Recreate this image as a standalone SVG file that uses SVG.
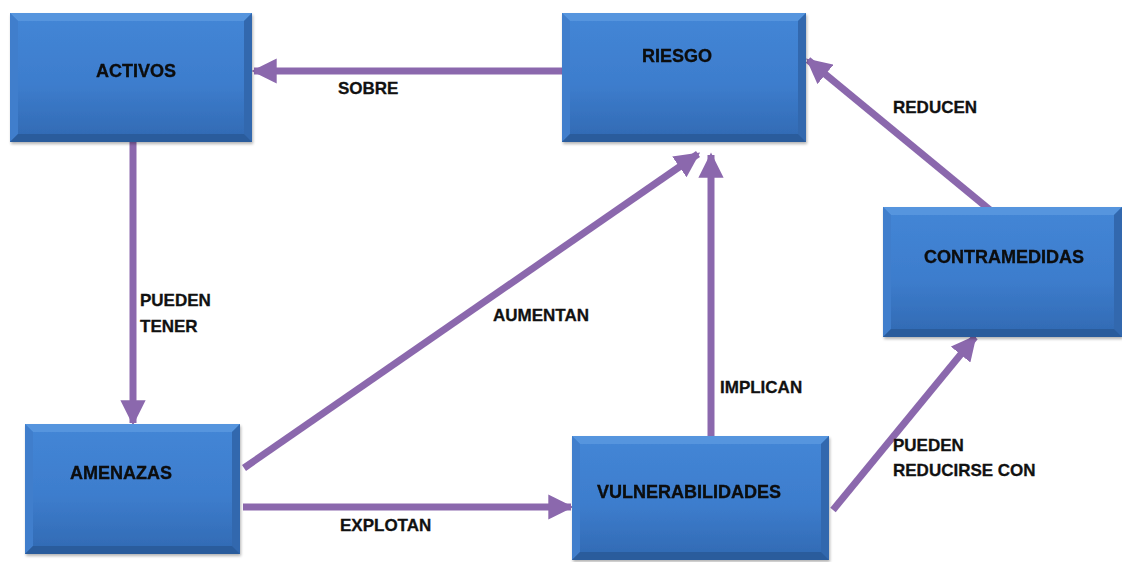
<svg xmlns="http://www.w3.org/2000/svg" width="1122" height="562" viewBox="0 0 1122 562">
  <defs>
    <linearGradient id="face" x1="0" y1="0" x2="0" y2="1">
      <stop offset="0" stop-color="#4486d6"/>
      <stop offset="0.55" stop-color="#3d7dcd"/>
      <stop offset="1" stop-color="#3169b2"/>
    </linearGradient>
    <marker id="head" viewBox="0 0 10 10" refX="9" refY="5" markerWidth="3.6" markerHeight="3.6" orient="auto" markerUnits="strokeWidth">
      <path d="M0,0 L10,5 L0,10 z" fill="#8b68ad"/>
    </marker>
    <filter id="shadow" x="-5%" y="-5%" width="115%" height="115%">
      <feGaussianBlur in="SourceAlpha" stdDeviation="1.5"/>
      <feOffset dx="1" dy="2"/>
      <feComponentTransfer><feFuncA type="linear" slope="0.3"/></feComponentTransfer>
      <feMerge><feMergeNode/><feMergeNode in="SourceGraphic"/></feMerge>
    </filter>
  </defs>
  <style>
    .face { fill: url(#face); }
    .bev-t { fill: #5795de; }
    .bev-l { fill: #3f7ecc; }
    .bev-r { fill: #3068ae; }
    .bev-b { fill: #2a5c9c; }
    .lbl { font-family: "Liberation Sans", Arial, sans-serif; font-weight: bold; font-size: 17px; fill: #111; stroke: #111; stroke-width: 0.3; }
    .node-lbl { font-family: "Liberation Sans", Arial, sans-serif; font-weight: bold; font-size: 18px; fill: #0a0a0a; stroke: #0a0a0a; stroke-width: 0.3; text-anchor: middle; }
    .edge { stroke: #8b68ad; stroke-width: 7; fill: none; marker-end: url(#head); }
  </style>

  <rect width="1122" height="562" fill="#ffffff"/>

  <!-- connectors -->
  <g id="connectors">
    <line class="edge" x1="562" y1="71" x2="254" y2="71"/>
    <line class="edge" x1="133" y1="142" x2="133" y2="423"/>
    <line class="edge" x1="244" y1="468" x2="698" y2="154"/>
    <line class="edge" x1="711" y1="437" x2="711" y2="155"/>
    <line class="edge" x1="243" y1="507" x2="571" y2="507"/>
    <line class="edge" x1="833" y1="510" x2="975" y2="337"/>
    <line class="edge" x1="990" y1="210" x2="808" y2="60"/>
    <text class="lbl" x="338" y="94">SOBRE</text>
    <text class="lbl" x="140" y="306">PUEDEN</text>
    <text class="lbl" x="140" y="332">TENER</text>
    <text class="lbl" x="493" y="321">AUMENTAN</text>
    <text class="lbl" x="720" y="393">IMPLICAN</text>
    <text class="lbl" x="340" y="531">EXPLOTAN</text>
    <text class="lbl" x="893" y="451">PUEDEN</text>
    <text class="lbl" x="893" y="476">REDUCIRSE CON</text>
    <text class="lbl" x="893" y="113">REDUCEN</text>
  </g>

  <!-- nodes: bevelled blue boxes -->
  <g id="activos" filter="url(#shadow)">
    <rect class="face" x="10" y="13" width="242" height="129"/>
    <polygon class="bev-t" points="10,13 252,13 244,21 18,21"/>
    <polygon class="bev-l" points="10,13 18,21 18,134 10,142"/>
    <polygon class="bev-r" points="252,13 252,142 244,134 244,21"/>
    <polygon class="bev-b" points="10,142 252,142 244,134 18,134"/>
    <text class="node-lbl" x="136" y="77">ACTIVOS</text>
  </g>

  <g id="riesgo" filter="url(#shadow)">
    <rect class="face" x="562" y="13" width="244" height="129"/>
    <polygon class="bev-t" points="562,13 806,13 798,21 570,21"/>
    <polygon class="bev-l" points="562,13 570,21 570,134 562,142"/>
    <polygon class="bev-r" points="806,13 806,142 798,134 798,21"/>
    <polygon class="bev-b" points="562,142 806,142 798,134 570,134"/>
    <text class="node-lbl" x="677" y="62">RIESGO</text>
  </g>

  <g id="contramedidas" filter="url(#shadow)">
    <rect class="face" x="883" y="207" width="239" height="130"/>
    <polygon class="bev-t" points="883,207 1122,207 1114,215 891,215"/>
    <polygon class="bev-l" points="883,207 891,215 891,329 883,337"/>
    <polygon class="bev-r" points="1122,207 1122,337 1114,329 1114,215"/>
    <polygon class="bev-b" points="883,337 1122,337 1114,329 891,329"/>
    <text class="node-lbl" x="1004" y="263">CONTRAMEDIDAS</text>
  </g>

  <g id="amenazas" filter="url(#shadow)">
    <rect class="face" x="25" y="424" width="215" height="130"/>
    <polygon class="bev-t" points="25,424 240,424 232,432 33,432"/>
    <polygon class="bev-l" points="25,424 33,432 33,546 25,554"/>
    <polygon class="bev-r" points="240,424 240,554 232,546 232,432"/>
    <polygon class="bev-b" points="25,554 240,554 232,546 33,546"/>
    <text class="node-lbl" x="121" y="479">AMENAZAS</text>
  </g>

  <g id="vulnerabilidades" filter="url(#shadow)">
    <rect class="face" x="572" y="436" width="257" height="124"/>
    <polygon class="bev-t" points="572,436 829,436 821,444 580,444"/>
    <polygon class="bev-l" points="572,436 580,444 580,552 572,560"/>
    <polygon class="bev-r" points="829,436 829,560 821,552 821,444"/>
    <polygon class="bev-b" points="572,560 829,560 821,552 580,552"/>
    <text class="node-lbl" x="689" y="498">VULNERABILIDADES</text>
  </g>
</svg>
